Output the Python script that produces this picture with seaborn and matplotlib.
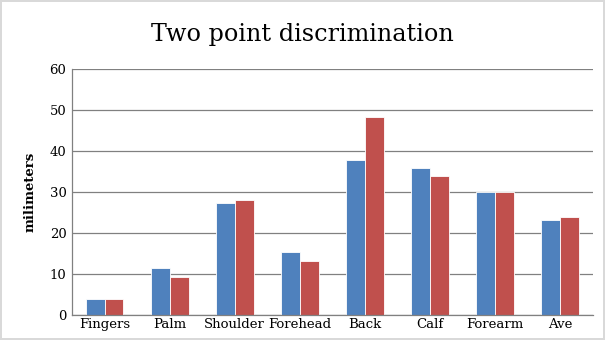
import matplotlib
matplotlib.use("Agg")
import matplotlib.pyplot as plt
import seaborn as sns
import pandas as pd

categories = ["Fingers", "Palm", "Shoulder", "Forehead", "Back", "Calf", "Forearm", "Ave"]
series1 = [4.0, 11.5, 27.4, 15.4, 37.9, 35.9, 30.0, 23.2]
series2 = [4.0, 9.3, 28.1, 13.2, 48.4, 34.0, 30.0, 24.0]
series_names = ["Series 1", "Series 2"]
yticks = [0, 10, 20, 30, 40, 50, 60]

df = pd.DataFrame({
    "cat": categories * 2,
    "val": series1 + series2,
    "series": [series_names[0]] * len(categories) + [series_names[1]] * len(categories),
})

sns.set_style("white")
plt.rcParams["font.family"] = ["DejaVu Serif"]
plt.rcParams["text.color"] = "black"
plt.rcParams["xtick.color"] = "black"
plt.rcParams["ytick.color"] = "black"
plt.rcParams["axes.labelcolor"] = "black"

fig = plt.figure(figsize=(6.05, 3.4), dpi=100)
fig.patch.set_edgecolor("#d9d9d9")
fig.patch.set_linewidth(1.5)
ax = fig.add_axes([0.119, 0.0735, 0.861, 0.7235])

sns.barplot(data=df, x="cat", y="val", hue="series", order=categories,
            palette=["#4F81BD", "#C0504D"], saturation=1, width=0.58, ax=ax,
            edgecolor="white", linewidth=0.6, legend=False)

ax.set_ylim(0, 60)
ax.set_yticks(yticks)
ax.set_yticklabels([str(t) for t in yticks], fontsize=9.5)
ax.tick_params(axis="x", labelsize=9.5, length=0, pad=2)
ax.tick_params(axis="y", length=0, pad=4)
ax.yaxis.grid(True, color="#808080", linewidth=0.9)
ax.set_axisbelow(True)
for s in ["top", "right"]:
    ax.spines[s].set_visible(False)
for s in ["left", "bottom"]:
    ax.spines[s].set_color("#808080")
    ax.spines[s].set_linewidth(0.9)
ax.set_xlabel("")
ax.set_ylabel("milimeters", fontsize=9.5, fontweight="bold")
ax.yaxis.set_label_coords(-0.068, 0.5)
fig.text(0.5, 0.9, "Two point discrimination", ha="center", va="center", fontsize=17.2)

fig.savefig("out.png", dpi=100)
